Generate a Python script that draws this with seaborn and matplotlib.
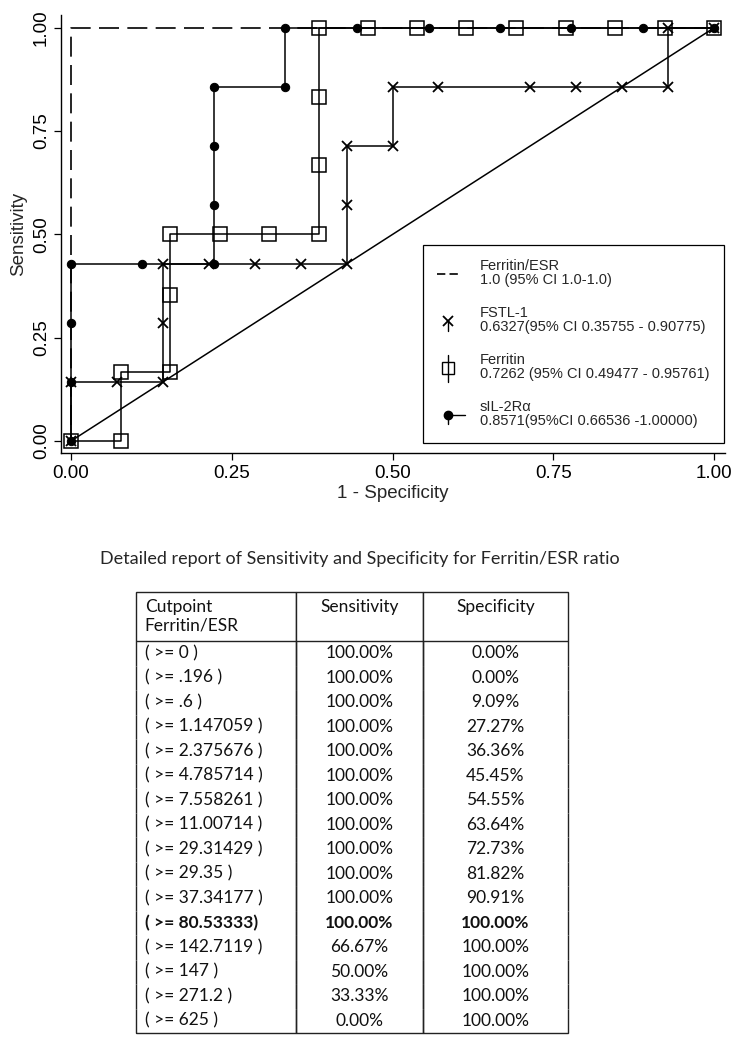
import matplotlib
matplotlib.use("Agg")
import matplotlib.pyplot as plt
import seaborn as sns
from matplotlib.lines import Line2D
from matplotlib.legend_handler import HandlerBase

# --- Ferritin/ESR cut-point report (also gives the dashed ROC curve) ---
cutpoints = ["( >= 0 )", "( >= .196 )", "( >= .6 )", "( >= 1.147059 )",
             "( >= 2.375676 )", "( >= 4.785714 )", "( >= 7.558261 )",
             "( >= 11.00714 )", "( >= 29.31429 )", "( >= 29.35 )",
             "( >= 37.34177 )", "( >= 80.53333)", "( >= 142.7119 )",
             "( >= 147 )", "( >= 271.2 )", "( >= 625 )"]
esr_sens = [100.00, 100.00, 100.00, 100.00, 100.00, 100.00, 100.00, 100.00,
            100.00, 100.00, 100.00, 100.00, 66.67, 50.00, 33.33, 0.00]
esr_spec = [0.00, 0.00, 9.09, 27.27, 36.36, 45.45, 54.55, 63.64,
            72.73, 81.82, 90.91, 100.00, 100.00, 100.00, 100.00, 100.00]
best_row = 11

# --- ROC points (1 - specificity, sensitivity) ---
fstl_fpr = [0, 0, 0.071, 0.143, 0.143, 0.143, 0.214, 0.286, 0.357, 0.429, 0.429,
            0.429, 0.5, 0.5, 0.571, 0.714, 0.786, 0.857, 0.929, 0.929, 1.0]
fstl_sens = [0, 0.143, 0.143, 0.143, 0.286, 0.429, 0.429, 0.429, 0.429, 0.429, 0.571,
             0.714, 0.714, 0.857, 0.857, 0.857, 0.857, 0.857, 0.857, 1.0, 1.0]

fer_fpr = [0, 0.077, 0.077, 0.154, 0.154, 0.154, 0.231, 0.308, 0.385, 0.385,
           0.385, 0.385, 0.462, 0.538, 0.615, 0.692, 0.769, 0.846, 0.923, 1.0]
fer_sens = [0, 0, 0.167, 0.167, 0.353, 0.5, 0.5, 0.5, 0.5, 0.667,
            0.833, 1.0, 1.0, 1.0, 1.0, 1.0, 1.0, 1.0, 1.0, 1.0]

sil_fpr = [0, 0, 0, 0, 0.111, 0.222, 0.222, 0.222, 0.222, 0.333, 0.333,
           0.444, 0.556, 0.667, 0.778, 0.889, 1.0]
sil_sens = [0, 0.143, 0.286, 0.429, 0.429, 0.429, 0.571, 0.714, 0.857, 0.857, 1.0,
            1.0, 1.0, 1.0, 1.0, 1.0, 1.0]

ref_line = [0, 1]

legend_labels = ["Ferritin/ESR\n1.0 (95% CI 1.0-1.0)",
                 "FSTL-1\n0.6327(95% CI 0.35755 - 0.90775)",
                 "Ferritin\n0.7262 (95% CI 0.49477 - 0.95761)",
                 "sIL-2Rα\n0.8571(95%CI 0.66536 -1.00000)"]
x_ticks = [0, 0.25, 0.5, 0.75, 1.0]

table_title = "Detailed report of Sensitivity and Specificity for Ferritin/ESR ratio"
table_header = ["Cutpoint\nFerritin/ESR", "Sensitivity\n ", "Specificity\n "]

sns.set_style("ticks")
plt.rcParams["font.family"] = ["Liberation Sans", "DejaVu Sans"]
TABLE_FONT = ["Lato", "DejaVu Sans"]


class KeyHandler(HandlerBase):
    """Stata-like legend key: marker with little stems."""

    def __init__(self, marker, ms, mfc, up=0, down=0, right=0, mew=1.0):
        super().__init__()
        self.marker, self.ms, self.mfc, self.mew = marker, ms, mfc, mew
        self.up, self.down, self.right = up, down, right

    def create_artists(self, legend, orig_handle, xdescent, ydescent,
                       width, height, fontsize, trans):
        cx = -xdescent + width / 2
        cy = (height - ydescent) / 2
        arts = []
        if self.up or self.down:
            arts.append(Line2D([cx, cx], [cy - self.down, cy + self.up], color="black", lw=1.0))
        if self.right:
            arts.append(Line2D([cx, cx + self.right], [cy, cy], color="black", lw=1.0))
        arts.append(Line2D([cx], [cy], marker=self.marker, ms=self.ms, mfc=self.mfc,
                           mec="black", mew=self.mew, ls="none"))
        for a in arts:
            a.set_transform(trans)
        return arts


fig = plt.figure(figsize=(7.42, 10.43), dpi=100)
ax = fig.add_axes([61 / 742, 590 / 1043, 664 / 742, 438 / 1043])

esr_fpr = [1 - s / 100 for s in esr_spec]
esr_tpr = [s / 100 for s in esr_sens]

line_kw = dict(ax=ax, color="black", estimator=None, sort=False, legend=False)
sns.lineplot(x=ref_line, y=ref_line, lw=1.1, **line_kw)
sns.lineplot(x=sil_fpr, y=sil_sens, lw=1.1, marker="o", ms=6, mfc="black",
             mec="black", **line_kw)
sns.lineplot(x=fstl_fpr, y=fstl_sens, lw=1.1, marker="x", ms=7, mew=1.3,
             mec="black", **line_kw)
sns.lineplot(x=fer_fpr, y=fer_sens, lw=1.1, marker="s", ms=10, mfc="none",
             mec="black", mew=1.1, **line_kw)
sns.lineplot(x=esr_fpr, y=esr_tpr, lw=1.2, linestyle=(0, (12, 5)), **line_kw)

ax.set_xlim(-0.0156, 1.017)
ax.set_ylim(-0.029, 1.031)
ax.set_xticks(x_ticks)
ax.set_yticks(x_ticks)
ax.set_xticklabels([f"{t:.2f}" for t in x_ticks])
ax.set_yticklabels([f"{t:.2f}" for t in x_ticks], rotation=90, va="center")
ax.tick_params(direction="out", length=5, width=0.9, labelsize=13.5, colors="black")
ax.tick_params(axis="x", pad=4)
ax.tick_params(axis="y", pad=3)
ax.set_xlabel("1 - Specificity", fontsize=13.5, labelpad=2)
ax.set_ylabel("Sensitivity", fontsize=13.5, labelpad=4)
sns.despine(ax=ax)
for side in ("left", "bottom"):
    ax.spines[side].set_linewidth(1.0)
    ax.spines[side].set_color("black")

h_esr = Line2D([], [], color="black", lw=1.2, linestyle=(0, (5, 2.5)))
h_fstl = Line2D([], [], color="black")
h_fer = Line2D([], [], color="black")
h_sil = Line2D([], [], color="black")
leg = ax.legend([h_esr, h_fstl, h_fer, h_sil], legend_labels,
                handler_map={
                    h_fstl: KeyHandler("x", 7, "none", down=7, mew=1.3),
                    h_fer: KeyHandler("s", 8, "none", up=9, down=10),
                    h_sil: KeyHandler("o", 6, "black", down=7, right=12),
                },
                loc="lower right", bbox_to_anchor=(0.998, 0.023), fontsize=10.5,
                frameon=True, fancybox=False, framealpha=1, edgecolor="black",
                borderpad=1.0, labelspacing=1.3, handlelength=1.5,
                handletextpad=1.4, borderaxespad=0)
leg.get_frame().set_linewidth(0.9)
for t in leg.get_texts():
    t.set_linespacing(1.0)

# --- report table ---
fig.text(360 / 742, 1 - 559 / 1043, table_title, ha="center", va="center",
         fontsize=13, family=TABLE_FONT)

tax = fig.add_axes([136 / 742, 10 / 1043, 432 / 742, 441 / 1043])
tax.axis("off")
rows = [table_header] + [[c, f"{s:.2f}%", f"{p:.2f}%"]
                         for c, s, p in zip(cutpoints, esr_sens, esr_spec)]
tbl = tax.table(cellText=rows, colWidths=[160 / 432, 127 / 432, 145 / 432],
                cellLoc="center", bbox=[0, 0, 1, 1])
tbl.auto_set_font_size(False)
tbl.set_fontsize(12.5)
nrows = len(rows)
for (r, c), cell in tbl.get_celld().items():
    cell.set_height(2 if r == 0 else 1)
    cell.set_linewidth(1.0)
    cell.set_edgecolor("#222222")
    if r == 0:
        cell.visible_edges = "closed"
    elif r == nrows - 1:
        cell.visible_edges = "BLR"
    else:
        cell.visible_edges = "LR"
    cell.set_text_props(family=TABLE_FONT, color="#111111")
    if c == 0:
        cell.PAD = 0.055
        cell.set_text_props(ha="left")
    if r == best_row + 1:
        cell.set_text_props(fontweight="bold")

fig.savefig("out.png", dpi=100)
